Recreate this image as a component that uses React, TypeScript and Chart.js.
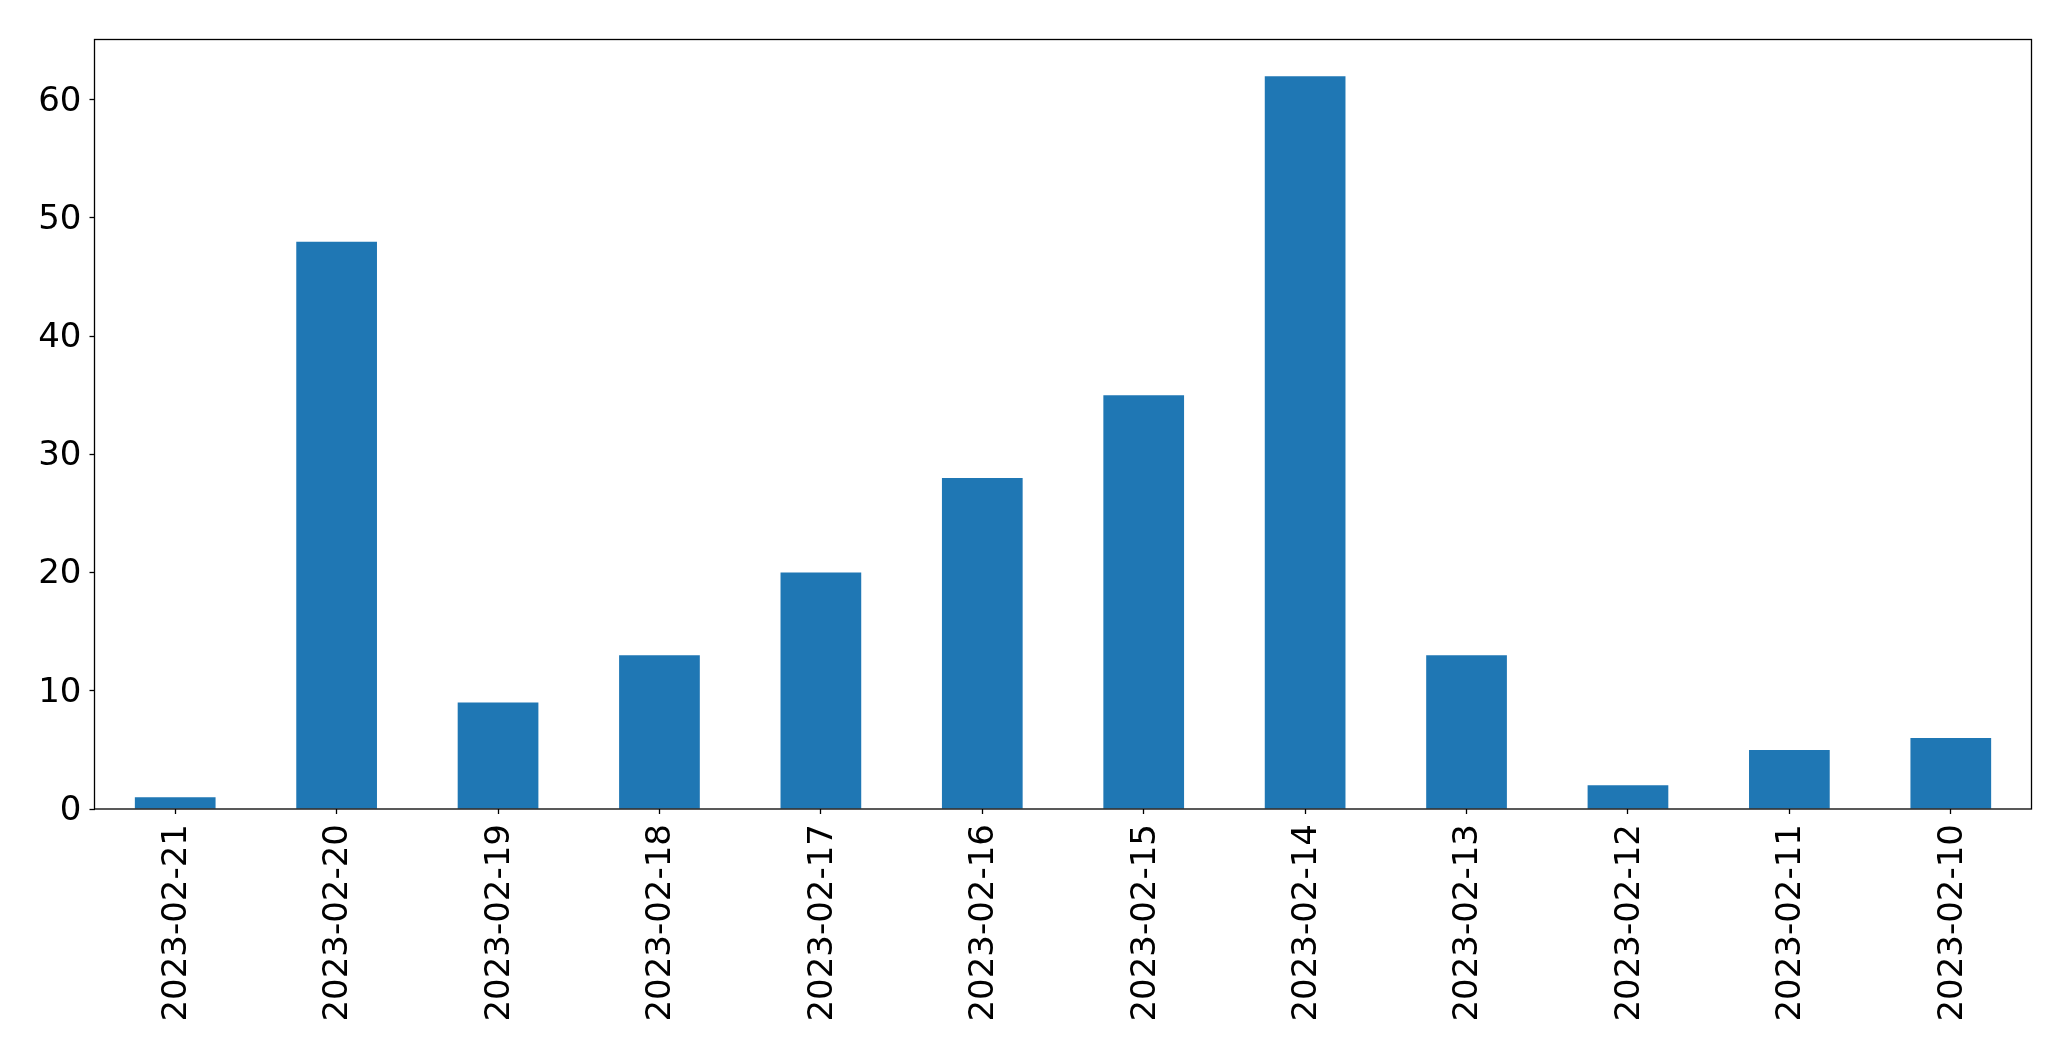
import React, { useEffect, useRef } from "react";
import { Chart, registerables } from "chart.js";

Chart.register(...registerables);

const categories = [
  "2023-02-21", "2023-02-20", "2023-02-19", "2023-02-18", "2023-02-17", "2023-02-16",
  "2023-02-15", "2023-02-14", "2023-02-13", "2023-02-12", "2023-02-11", "2023-02-10",
];
const counts = [1, 48, 9, 13, 20, 28, 35, 62, 13, 2, 5, 6];
const yTickStep = 10;
const yMax = 65.1;

const FONT = "'DejaVu Sans', sans-serif";

const frame = {
  id: "frame",
  afterDatasetsDraw(chart: any) {
    const { ctx, chartArea } = chart;
    ctx.save();
    ctx.strokeStyle = "#000";
    ctx.lineWidth = 1.3;
    ctx.strokeRect(chartArea.left, chartArea.top, chartArea.right - chartArea.left, chartArea.bottom - chartArea.top);
    ctx.restore();
  },
};

export default function App() {
  const ref = useRef<HTMLCanvasElement | null>(null);
  useEffect(() => {
    const chart = new Chart(ref.current as HTMLCanvasElement, {
      type: "bar",
      data: {
        labels: categories,
        datasets: [
          {
            data: counts,
            backgroundColor: "#1f77b4",
            borderWidth: 0,
            categoryPercentage: 1,
            barPercentage: 0.5,
          },
        ],
      },
      options: {
        animation: false,
        responsive: false,
        maintainAspectRatio: false,
        layout: { padding: { top: 39.5, right: 39.5, left: 0, bottom: 0 } },
        plugins: { legend: { display: false }, tooltip: { enabled: false } },
        scales: {
          x: {
            grid: { display: true, drawOnChartArea: false, offset: false, tickLength: 5, tickColor: "#000", tickWidth: 1.3 },
            border: { display: false },
            ticks: { color: "#000", font: { family: FONT, size: 34 }, minRotation: 90, maxRotation: 90, padding: 10, autoSkip: false, labelOffset: 2 },
            afterFit: (s: any) => { s.height = 252; },
          },
          y: {
            min: 0,
            max: yMax,
            grid: { display: true, drawOnChartArea: false, tickLength: 5, tickColor: "#000", tickWidth: 1.3 },
            border: { display: false },
            ticks: { color: "#000", font: { family: FONT, size: 34 }, stepSize: yTickStep, padding: 8, labelOffset: 2 },
            afterBuildTicks: (s: any) => { s.ticks = s.ticks.filter((t: any) => t.value % yTickStep === 0); },
            afterFit: (s: any) => { s.width = 94.5; },
          },
        },
      },
      plugins: [frame],
    });
    return () => chart.destroy();
  }, []);
  return (
    <div style={{ position: "fixed", left: 0, top: 0, width: 2071, height: 1061, background: "#fff" }}>
      <canvas ref={ref} width={2071} height={1061} style={{ width: 2071, height: 1061 }} />
    </div>
  );
}
